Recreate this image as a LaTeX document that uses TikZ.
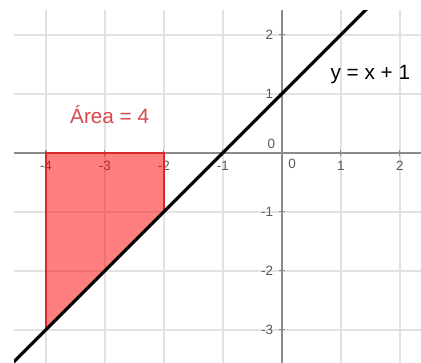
\documentclass[tikz,border=0pt]{standalone}
\usepackage{fontspec}
\setmainfont{Liberation Sans}
\usepackage{tikz}
\usetikzlibrary{positioning, calc}

\definecolor{gridgray}{HTML}{E2E2E2}
\definecolor{axisgray}{HTML}{8A8A8A}
\definecolor{areaedge}{HTML}{D62A2A}
\definecolor{arealabel}{HTML}{D8474A}

\begin{document}
\begin{tikzpicture}[
    gridline/.style={gridgray, line width=0.9pt},
    axis/.style={axisgray, line width=0.8pt},
    ticklabel/.style={font=\fontsize{6.5}{7}\selectfont, text=black!65, inner sep=1pt},
    graphline/.style={black, line width=1.5pt}
]
\useasboundingbox (-4.78,-3.56) rectangle (2.36,2.59);

\begin{scope}
\clip (-4.54,-3.56) rectangle (2.36,2.42);

% Grid
\foreach \x in {-4,...,2}
    \draw[gridline] (\x,-3.56) -- (\x,2.42);
\foreach \y in {-3,...,2}
    \draw[gridline] (-4.54,\y) -- (2.36,\y);

% Axes
\draw[axis] (-4.54,0) -- (2.36,0);
\draw[axis] (0,-3.56) -- (0,2.42);

% Tick labels
\foreach \x in {-4,-3,-2,-1,1,2}{
    \node[ticklabel, below=3pt] (xl\x) at (\x,0) {\x};
    \draw[axis, line width=0.5pt] (\x,-0.05) -- (\x,0.05);
}
\node[ticklabel, below right=2pt and 2pt] (xl0) at (0,0) {0};
\node[ticklabel, above left=1pt and 2pt] (yl0) at (0,0) {0};
\foreach \y in {1,2,-1,-2,-3}{
    \node[ticklabel, left=3pt] (yl\y) at (0,\y) {\y};
    \draw[axis, line width=0.5pt] (-0.05,\y) -- (0.05,\y);
}

% Shaded area
\coordinate (A) at (-4,0);
\coordinate (B) at (-2,0);
\coordinate (C) at (-2,-1);
\coordinate (D) at (-4,-3);
\fill[red, opacity=0.5] (A) -- (B) -- (C) -- (D) -- cycle;
\draw[areaedge, line width=1pt] (D) -- (A) -- (B) -- (C);

% Line y = x + 1
\coordinate (P) at (-4.6,-3.6);
\coordinate (Q) at (1.5,2.5);
\draw[graphline] (P) -- (Q);
\end{scope}

% Labels
\node[text=arealabel, font=\fontsize{10}{12}\selectfont] (arealbl) at (-2.92,0.64) {Área = 4};
\node[font=\fontsize{10}{12}\selectfont] (linelbl) at (1.5,1.32) {y = x + 1};

\end{tikzpicture}
\end{document}
